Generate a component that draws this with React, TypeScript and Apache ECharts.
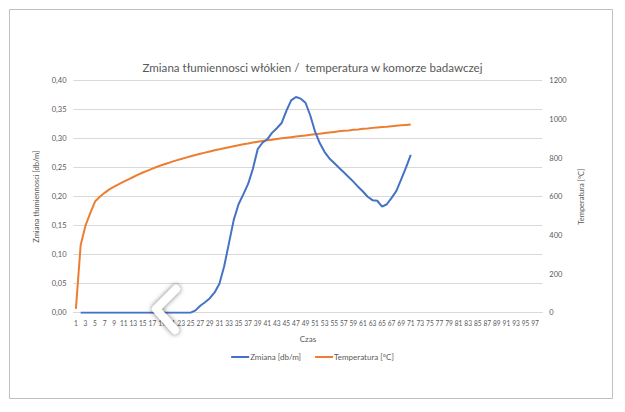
import React, { useEffect, useRef } from "react";
import * as echarts from "echarts";

const categories: string[] = Array.from({ length: 98 }, (_, i) => String(i + 1));

const zmiana: (number | string)[] = [
  "-", 0, 0, 0, 0, 0, 0, 0, 0, 0,
  0, 0, 0, 0, 0, 0, 0, 0, 0, 0,
  0, 0, 0, 0, 0, 0.004, 0.012, 0.018, 0.025, 0.035,
  0.05, 0.08, 0.12, 0.16, 0.187, 0.204, 0.222, 0.248, 0.282, 0.293,
  0.299, 0.31, 0.318, 0.327, 0.348, 0.366, 0.372, 0.369, 0.362, 0.34,
  0.312, 0.292, 0.277, 0.266, 0.258, 0.25, 0.242, 0.234, 0.226, 0.217,
  0.209, 0.2, 0.194, 0.193, 0.183, 0.187, 0.198, 0.21, 0.23, 0.25,
  0.272,
];

const temperatura: number[] = [
  20, 350, 450, 515, 575, 600, 620, 638, 652, 665,
  678, 690, 702, 714, 725, 735, 745, 755, 764, 772,
  780, 788, 795, 802, 809, 816, 822, 828, 834, 840,
  845, 851, 856, 861, 866, 871, 875, 880, 884, 888,
  892, 895, 899, 902, 905, 908, 911, 914, 917, 920,
  923, 926, 929, 932, 935, 938, 941, 943, 946, 948,
  951, 953, 956, 958, 960, 962, 965, 967, 969, 971,
  973,
];

const FONT = "Lato";

export default function App() {
  const ref = useRef<HTMLDivElement>(null);
  useEffect(() => {
    if (!ref.current) return;
    const chart = echarts.init(ref.current, null, { renderer: "svg" });
    chart.setOption({
      animation: false,
      backgroundColor: "#ffffff",
      textStyle: { fontFamily: FONT },
      title: {
        text: "Zmiana tłumiennosci włókien /  temperatura w komorze badawczej",
        left: "center",
        top: 56,
        textStyle: { fontFamily: FONT, fontSize: 11.6, fontWeight: "normal", color: "#595959" },
      },
      grid: { left: 73.5, right: 82.7, top: 80.7, bottom: 99.3, containLabel: false },
      legend: {
        bottom: 46,
        left: "center",
        itemWidth: 18,
        itemHeight: 2,
        itemGap: 14,
        icon: "rect",
        textStyle: { fontFamily: FONT, fontSize: 8, color: "#595959", padding: [0, 0, 0, -4] },
        data: ["Zmiana [db/m]", "Temperatura [°C]"],
      },
      xAxis: {
        type: "category",
        data: categories,
        boundaryGap: true,
        name: "Czas",
        nameLocation: "middle",
        nameGap: 22,
        nameTextStyle: { fontFamily: FONT, fontSize: 8, color: "#595959" },
        axisLine: { lineStyle: { color: "#d9d9d9" } },
        axisTick: { show: false },
        axisLabel: {
          interval: 1,
          fontSize: 6.6,
          color: "#595959",
          margin: 7,
          hideOverlap: false,
        },
      },
      yAxis: [
        {
          type: "value",
          min: 0,
          max: 0.4,
          interval: 0.05,
          name: "Zmiana tłumiennosci [db/m]",
          nameLocation: "middle",
          nameGap: 29,
          nameTextStyle: { fontFamily: FONT, fontSize: 7.5, color: "#595959" },
          axisLabel: {
            fontSize: 7.5,
            color: "#595959",
            margin: 7,
            formatter: (v: number) => v.toFixed(2).replace(".", ","),
          },
          splitLine: { lineStyle: { color: "#d9d9d9" } },
          axisLine: { show: false },
          axisTick: { show: false },
        },
        {
          type: "value",
          min: 0,
          max: 1200,
          interval: 200,
          name: "Temperatura [°C]",
          nameLocation: "middle",
          nameGap: 32,
          nameRotate: 90,
          nameTextStyle: { fontFamily: FONT, fontSize: 7.5, color: "#595959" },
          axisLabel: {
            fontSize: 7.5,
            color: "#595959",
            margin: 7,
            formatter: (v: number) => String(v),
          },
          splitLine: { show: false },
          axisLine: { show: false },
          axisTick: { show: false },
        },
      ],
      series: [
        {
          name: "Zmiana [db/m]",
          type: "line",
          yAxisIndex: 0,
          data: zmiana,
          showSymbol: false,
          symbol: "none",
          lineStyle: { color: "#4472C4", width: 2 },
          itemStyle: { color: "#4472C4" },
          z: 3,
        },
        {
          name: "Temperatura [°C]",
          type: "line",
          yAxisIndex: 1,
          data: temperatura,
          showSymbol: false,
          symbol: "none",
          lineStyle: { color: "#ED7D31", width: 2 },
          itemStyle: { color: "#ED7D31" },
          z: 2,
        },
      ],
      graphic: [
        {
          type: "rect",
          shape: { x: 9.5, y: 9.5, width: 603, height: 389 },
          style: { fill: "none", stroke: "#bfbfbf", lineWidth: 1 },
          silent: true,
        },
        {
          type: "polyline",
          shape: { points: [[176, 289], [156, 309], [175, 330]] },
          style: {
            fill: "none",
            stroke: "#ffffff",
            lineWidth: 8,
            lineCap: "round",
            lineJoin: "round",
            shadowBlur: 5,
            shadowColor: "rgba(0,0,0,0.6)",
          },
          z: 100,
          silent: true,
        },
      ],
    });
    return () => chart.dispose();
  }, []);
  return <div ref={ref} style={{ width: 625, height: 412, position: "absolute", left: 0, top: 0 }} />;
}
